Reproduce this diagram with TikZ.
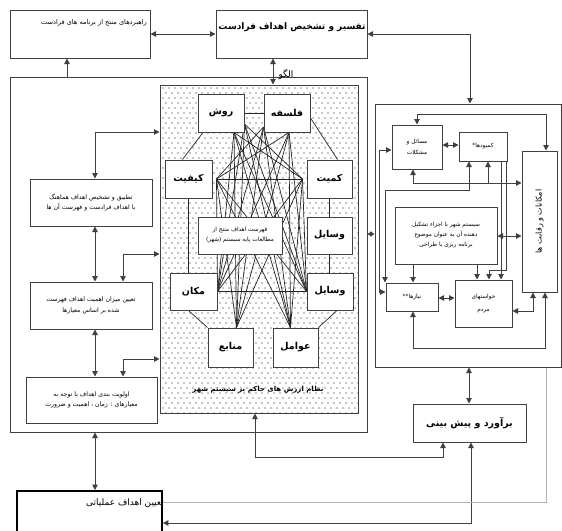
\documentclass[tikz,border=0pt]{standalone}
\usepackage{fontspec}
\setmainfont{DejaVu Sans}
\newfontfamily\fa[Script=Arabic]{DejaVu Sans}
\TeXXeTstate=1
\usetikzlibrary{arrows.meta}
\pgfdeclarelayer{bg}
\pgfdeclarelayer{net}
\pgfsetlayers{bg,net,main}
\definecolor{linec}{HTML}{404040}
\definecolor{netc}{HTML}{262626}
\definecolor{dotc}{HTML}{8C8C8C}
\newcommand{\rl}[1]{\beginR #1\endR}
\tikzset{
  box/.style={draw=linec, line width=1pt, fill=white, inner sep=0pt, align=center},
  conn/.style={draw=linec, line width=1pt},
  tip/.tip={Triangle[length=5.5pt,width=5.5pt]},
  arr/.style={conn, -tip},
  rarr/.style={conn, tip-},
  dbl/.style={conn, tip-tip},
  netline/.style={draw=netc, line width=0.7pt},
  tiny/.style={font=\fa\fontsize{6.2}{9.5}\selectfont},
  small/.style={font=\fa\fontsize{5.8}{9}\selectfont},
  big/.style={font=\fa\bfseries\fontsize{9.5}{11}\selectfont},
}
\begin{document}
\begin{tikzpicture}[x=1pt,y=-1pt]
\useasboundingbox (0,0) rectangle (562,530);
% top boxes
\node[box, minimum width=140pt, minimum height=48pt] (tl) at (80,34) {};
\node[font=\fa\fontsize{6.6}{8}\selectfont, anchor=north east, inner sep=0pt] (tlt) at (147,19) {\rl{راهبردهای منتج از برنامه های فرادست}};
\node[box, minimum width=151pt, minimum height=48pt] (tc) at (291.5,34) {};
\node[font=\fa\bfseries\fontsize{9}{11}\selectfont, inner sep=0pt] (tct) at (292,27) {\rl{تفسیر و تشخیص اهداف فرادست}};
% big left frame
\node[draw=linec, line width=1pt, minimum width=357pt, minimum height=355pt, inner sep=0pt] (bigf) at (188.5,254.5) {};
% pattern region
\node[draw=linec, line width=1pt, minimum width=198pt, minimum height=328pt, inner sep=0pt] (pat) at (259,249) {};
\begin{pgfonlayer}{bg}
\foreach \yy in {0,...,65} {
  \foreach \xx in {0,...,32} {
    \fill[dotc] ({163+6*\xx+3*mod(\yy,2)},{88+5*\yy}) circle (0.8pt);
  }
}
\end{pgfonlayer}
\node[font=\fa\fontsize{9}{11}\selectfont, inner sep=0pt] (olgu) at (286,75) {\rl{الگو}};
% left column
\node[box, tiny, minimum width=122pt, minimum height=47pt] (A) at (91,202.5) {\rl{تطبیق و تشخیص اهداف هماهنگ}\\[1pt]\rl{با اهداف فرادست و فهرست آن ها}};
\node[box, tiny, minimum width=122pt, minimum height=47pt] (B) at (91,305.5) {\rl{تعیین میزان اهمیت اهداف فهرست}\\[1pt]\rl{شده بر اساس معیارها}};
\node[box, tiny, minimum width=131pt, minimum height=46pt] (C) at (91.5,400) {\rl{اولویت بندی اهداف با توجه به}\\[1pt]\rl{معیارهای : زمان ، اهمیت و ضرورت}};
% inner nodes
\node[box, big, minimum width=46pt, minimum height=38pt] (rosh) at (221,113) {\rl{روش}};
\node[box, big, minimum width=46pt, minimum height=38pt] (fal) at (287,113) {\rl{فلسفه}};
\node[box, big, minimum width=47pt, minimum height=38pt] (key) at (188.5,179) {\rl{کیفیت}};
\node[box, big, minimum width=45pt, minimum height=38pt] (kam) at (329.5,179) {\rl{کمیت}};
\node[box, small, minimum width=84pt, minimum height=37pt] (lst) at (240,235.5) {\rl{فهرست اهداف منتج از}\\[1pt]\rl{مطالعات پایه سیستم (شهر)}};
\node[box, big, minimum width=45pt, minimum height=37pt] (vs1) at (329.5,235.5) {\rl{وسایل}};
\node[box, big, minimum width=47pt, minimum height=37pt] (mak) at (193.5,291.5) {\rl{مکان}};
\node[box, big, minimum width=46pt, minimum height=37pt] (vs2) at (330,291.5) {\rl{وسایل}};
\node[box, big, minimum width=45pt, minimum height=39pt] (man) at (230.5,347.5) {\rl{منابع}};
\node[box, big, minimum width=45pt, minimum height=39pt] (ava) at (295.5,347.5) {\rl{عوامل}};
\node[font=\fa\bfseries\fontsize{7}{9}\selectfont, inner sep=0pt] (cap) at (258,390) {\rl{نظام ارزش های حاکم بر سیستم شهر}};
% network
\coordinate (R1) at ([yshift=-11pt]rosh.east);
\coordinate (R2) at ([xshift=13pt]rosh.south);
\coordinate (F1) at ([yshift=-14pt]fal.west);
\coordinate (F2) at ([xshift=2pt]fal.south);
\coordinate (K1) at ([xshift=4pt]key.east);
\coordinate (K2) at ([xshift=-4pt]kam.west);
\coordinate (M) at (mak.east);
\coordinate (V) at (vs2.west);
\coordinate (S) at ([xshift=6pt]man.north);
\coordinate (Q) at ([xshift=-5pt]ava.north);
\begin{pgfonlayer}{net}
\foreach \t in {R1,R2,F1,F2} {
  \foreach \b in {M,V,S,Q} { \draw[netline] (\t) -- (\b); }
}
\foreach \t in {K1,K2} {
  \foreach \b in {M,V,S,Q} { \draw[netline] (\t) -- (\b); }
}
\draw[netline] (R1) -- (K2);
\draw[netline] (F1) -- (K1);
\draw[netline] (F2) -- (K1);
\draw[netline] (R2) -- (K2);
\draw[netline] (K1) -- (K2);
\draw[netline] (M) -- (V);
\draw[netline] (rosh.east) -- (fal.west);
\draw[netline] ([xshift=-18pt]rosh.south) -- ([xshift=-6pt]key.north);
\draw[netline] ([yshift=-5pt]fal.east) -- ([xshift=8pt]kam.north);
\draw[netline] (key.south) -- (mak.south -| key.south);
\draw[netline] (kam.south) -- (vs1.north);
\draw[netline] (vs1.south) -- (vs2.north -| vs1.south);
\draw[netline] ([xshift=-5pt]mak.south) -- (man.west |- man.north);
\draw[netline] ([xshift=7pt]vs2.south) -- (ava.east |- ava.north);
\end{pgfonlayer}
% right panel
\node[draw=linec, line width=1pt, minimum width=186pt, minimum height=263pt, inner sep=0pt] (rp) at (468,235.5) {};
\node[box, small, minimum width=50pt, minimum height=44pt] (ma) at (417,147) {\rl{مسائل و}\\[2pt]\rl{مشکلات}};
\node[box, small, minimum width=48pt, minimum height=29pt] (kb) at (483,146.5) {\rl{کمبودها*}};
\node[box, minimum width=35pt, minimum height=141pt] (em) at (539.5,221.5) {};
\node[font=\fa\fontsize{8}{9}\selectfont, rotate=90, inner sep=0pt] (emt) at (em.center) {\rl{امکانات و رقابت ها}};
\node[box, small, minimum width=102pt, minimum height=57pt] (sy) at (446,235.5) {\rl{سیستم شهر با اجزاء تشکیل}\\[1pt]\rl{دهنده آن به عنوان موضوع}\\[1pt]\rl{برنامه ریزی یا طراحی}};
\node[box, small, minimum width=52pt, minimum height=28pt] (ni) at (412,297) {\rl{نیازها**}};
\node[box, small, minimum width=57pt, minimum height=47pt] (kh) at (483.5,303.5) {\rl{خواستهای}\\[4pt]\rl{مردم}};
% forecast
\node[box, font=\fa\bfseries\fontsize{9.5}{11}\selectfont, minimum width=113pt, minimum height=38pt] (fc) at (469.5,423) {\rl{برآورد و پیش بینی}};
% bottom box
\node[draw=black, line width=1.8pt, minimum width=145pt, minimum height=46pt, inner sep=0pt] (bot) at (89.5,514) {};
\node[font=\fa\fontsize{9}{11}\selectfont, anchor=north east, inner sep=0pt] (bott) at (164,498) {\rl{تعیین اهداف عملیاتی}};
% connectors top
\draw[dbl] (tl.east) -- (tc.west);
\draw[arr] (bigf.north -| 67,0) -- (tl.south -| 67,0);
\draw[dbl] (tc.south -| 273,0) -- (pat.north -| 273,0);
\draw[dbl] (tc.east) -- (470,34) -- (rp.north -| 470,0);
% left column connectors
\draw[dbl] (A.north -| 95,0) -- (95,132) -- (pat.west |- 0,132);
\draw[dbl] (A.south -| 95,0) -- (B.north -| 95,0);
\draw[dbl] (B.north -| 123,0) -- (123,254) -- (pat.west |- 0,254);
\draw[dbl] (B.south -| 95,0) -- (C.north -| 95,0);
\draw[dbl] (C.north -| 123,0) -- (123,359) -- (pat.west |- 0,359);
\draw[dbl] (bigf.south -| 95,0) -- (bot.north -| 95,0);
\draw[{Triangle[length=4pt,width=5pt]}-{Triangle[length=4pt,width=5pt]}, conn] (bigf.east |- 0,234) -- (rp.west |- 0,234);
% forecast connectors
\draw[dbl] (rp.south -| 469,0) -- (fc.north -| 469,0);
\draw[dbl] (fc.south -| 443,0) -- (443,457) -- (255,457) -- (pat.south -| 255,0);
\draw[dbl] (fc.south -| 471,0) -- (471,523) -- (bot.east |- 0,523);
\draw[draw=gray!60, line width=0.7pt] (rp.south -| 546,0) -- (546,502) -- (bot.east |- 0,502);
% right panel connectors
\draw[dbl] (ma.north -| 417,0) -- (417,114) -- (546,114) -- (em.north -| 546,0);
\draw[dbl] (ma.east |- 0,145) -- (kb.west |- 0,145);
\draw[dbl] (ma.south -| 413,0) -- (413,183) -- (em.west |- 0,183);
\draw[rarr] (kb.south -| 488,0) -- (488,183);
\draw[dbl] (kb.south -| 469,0) -- (469,190) -- (385,190) -- (ni.north -| 385,0);
\draw[dbl] (ma.west |- 0,150) -- (379,150) -- (379,292) -- (ni.west |- 0,292);
\draw[dbl] (sy.east |- 0,236) -- (em.west |- 0,236);
\draw[arr] (sy.south -| 413,0) -- (ni.north -| 413,0);
\draw[arr] (sy.south -| 477,0) -- (kh.north -| 477,0);
\draw[arr] (kb.south -| 501,0) -- (kh.north -| 501,0);
\draw[arr] (kb.south -| 506,0) -- (506,270) -- (489,270) -- (kh.north -| 489,0);
\draw[dbl] (kh.east |- 0,311) -- (533,311) -- (em.south -| 533,0);
\draw[dbl] (ni.south -| 413,0) -- (413,348) -- (545,348) -- (em.south -| 545,0);
\draw[dbl] (ni.east |- 0,298) -- (kh.west |- 0,298);
\end{tikzpicture}
\end{document}
